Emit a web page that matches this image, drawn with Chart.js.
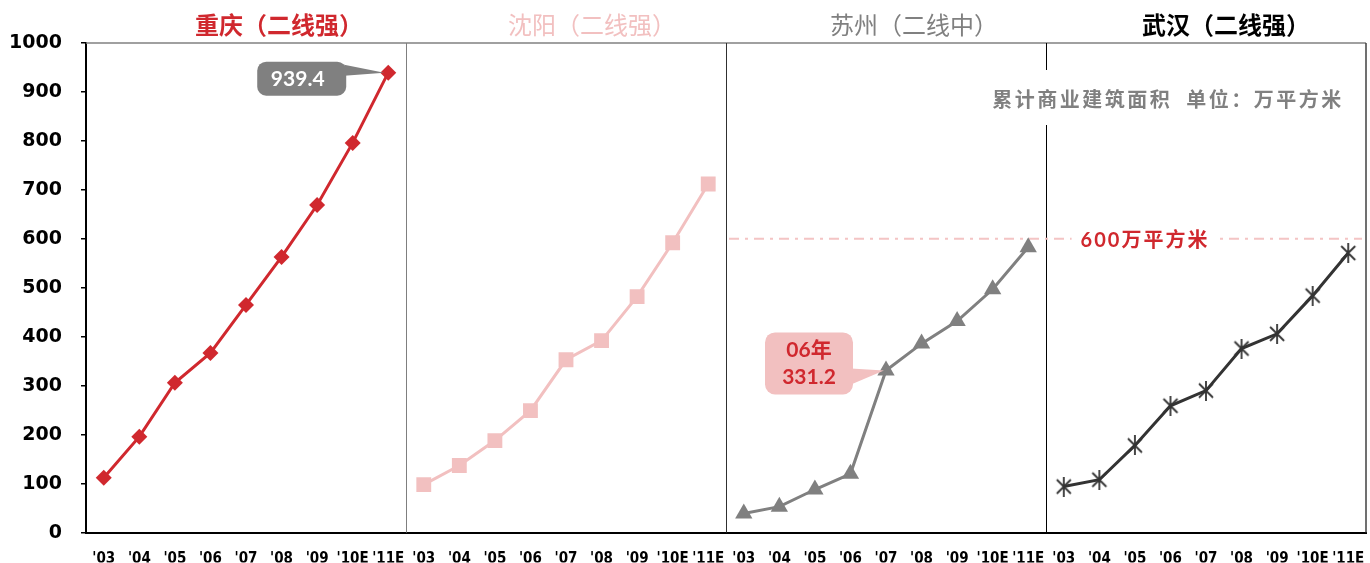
<!DOCTYPE html>
<html>
<head>
<meta charset="utf-8">
<script src="https://cdn.jsdelivr.net/npm/chart.js@4.4.0/dist/chart.umd.min.js"></script>
<style>
  html, body { margin: 0; padding: 0; background: #fff; }
  #grafico { width: 1370px; height: 563px; }
</style>
</head>
<body>
<div id="grafico"><canvas id="lienzo" width="1370" height="563"></canvas></div>
<script>
// Datos
const anios = ["'03", "'04", "'05", "'06", "'07", "'08", "'09", "'10E", "'11E"]
const ciudades = ['重庆（二线强）', '沈阳（二线强）', '苏州（二线中）', '武汉（二线强）']
const chongqing = [112, 196, 306, 367, 465, 563, 669, 796, 939.4]
const shenyang = [98, 137, 188, 249, 353, 392, 482, 592, 712]
const suzhou = [39, 53, 88, 120, 331.2, 386, 432, 497, 583]
const wuhan = [94, 108, 178, 259, 290, 376, 406, 484, 571]
const ticksY = [0, 100, 200, 300, 400, 500, 600, 700, 800, 900, 1000]
const lineaRef = 600
const textoRef = '600万平方米'
const nota = '累计商业建筑面积  单位：万平方米'

const ROJO = '#d0282e'
const ROSA = '#f2c0c0'
const GRIS = '#808080'
const OSCURO = '#333333'
const coloresTitulo = [ROJO, ROSA, GRIS, '#000000']
const pesosTitulo = ['bold', 'normal', 'normal', 'bold']
const desplTitulo = [33, 26, 28, 20]

// 4 paneles x 9 anios en un solo eje de categorias
const etiquetas = [].concat(anios, anios, anios, anios)

function serieEnPanel(valores, panel) {
    const datos = new Array(etiquetas.length).fill(null)
    valores.forEach((v, i) => { datos[panel * anios.length + i] = v })
    return datos
}

// Marcador tipo asterisco (X + linea vertical)
function crearEstrella() {
    const c = document.createElement('canvas')
    c.width = 20
    c.height = 20
    const g = c.getContext('2d')
    g.strokeStyle = OSCURO
    g.lineWidth = 1.8
    g.beginPath()
    g.moveTo(3, 3); g.lineTo(17, 17)
    g.moveTo(17, 3); g.lineTo(3, 17)
    g.moveTo(10, 0); g.lineTo(10, 20)
    g.stroke()
    return c
}

function cajaRedondeada(ctx, x, y, w, h, r) {
    ctx.beginPath()
    ctx.roundRect(x, y, w, h, r)
    ctx.fill()
}

const pluginMarco = {
    id: 'marco',
    beforeDatasetsDraw(chart) {
        const { ctx, chartArea: a, scales: { x, y } } = chart
        const n = anios.length
        ctx.save()
        // borde superior y derecho
        ctx.strokeStyle = GRIS
        ctx.lineWidth = 1.5
        ctx.beginPath()
        ctx.moveTo(a.left, a.top); ctx.lineTo(a.right, a.top)
        ctx.stroke()
        ctx.strokeStyle = '#404040'
        ctx.beginPath()
        ctx.moveTo(a.right, a.top); ctx.lineTo(a.right, a.bottom)
        ctx.stroke()
        // divisiones entre paneles
        const coloresDiv = ['#7f7f7f', '#303030', '#000000']
        for (let p = 1; p < 4; p++) {
            const xp = Math.round((x.getPixelForValue(p * n - 1) + x.getPixelForValue(p * n)) / 2) + 0.5
            ctx.strokeStyle = coloresDiv[p - 1]
            ctx.lineWidth = 1
            ctx.beginPath()
            ctx.moveTo(xp, a.top); ctx.lineTo(xp, a.bottom)
            ctx.stroke()
        }
        // linea de referencia 600
        const x0 = (x.getPixelForValue(2 * n - 1) + x.getPixelForValue(2 * n)) / 2 + 3
        const yr = y.getPixelForValue(lineaRef)
        ctx.strokeStyle = '#f4c4c4'
        ctx.lineWidth = 2
        ctx.setLineDash([10, 6, 3, 6])
        ctx.beginPath()
        ctx.moveTo(x0, yr); ctx.lineTo(a.right - 4, yr)
        ctx.stroke()
        ctx.setLineDash([])
        // texto de la linea con fondo blanco
        ctx.font = 'bold 20px "Lato", "Noto Sans CJK SC", sans-serif'
        ctx.letterSpacing = '2px'
        const xt = 1145
        const wt = ctx.measureText(textoRef).width
        ctx.fillStyle = '#ffffff'
        ctx.fillRect(xt - wt / 2 - 9, yr - 6, wt + 18, 12)
        ctx.fillStyle = ROJO
        ctx.textAlign = 'center'
        ctx.textBaseline = 'middle'
        ctx.fillText(textoRef, xt, yr + 2)
        ctx.restore()
    },
    afterDatasetsDraw(chart) {
        const { ctx, scales: { x } } = chart
        const n = anios.length
        ctx.save()
        // titulos de cada panel
        ctx.textAlign = 'center'
        ctx.textBaseline = 'middle'
        ciudades.forEach((t, p) => {
            const xc = (x.getPixelForValue(p * n + 4)) + desplTitulo[p]
            ctx.font = pesosTitulo[p] + ' 24px "Noto Sans CJK SC", sans-serif'
            ctx.fillStyle = coloresTitulo[p]
            ctx.fillText(t, xc, 25)
        })
        // nota de unidades con fondo blanco
        ctx.font = 'bold 20px "Noto Sans CJK SC", sans-serif'
        ctx.letterSpacing = '2.5px'
        const wn = ctx.measureText(nota).width
        ctx.fillStyle = '#ffffff'
        ctx.fillRect(1167 - wn / 2 - 4, 70, wn + 8, 55)
        ctx.fillStyle = GRIS
        ctx.fillText(nota, 1168, 99)
        ctx.letterSpacing = '0px'

        // globo 939.4
        const p1 = chart.getDatasetMeta(0).data[8]
        const b1 = { x: p1.x - 131, y: p1.y - 11, w: 89, h: 34 }
        ctx.fillStyle = GRIS
        cajaRedondeada(ctx, b1.x, b1.y, b1.w, b1.h, 9)
        ctx.beginPath()
        ctx.moveTo(b1.x + b1.w - 2, b1.y + 3)
        ctx.lineTo(p1.x - 4, p1.y)
        ctx.lineTo(b1.x + b1.w - 2, b1.y + 14)
        ctx.closePath()
        ctx.fill()
        ctx.fillStyle = '#ffffff'
        ctx.font = 'bold 21px "Lato", sans-serif'
        ctx.fillText(String(chongqing[8]), b1.x + b1.w / 2 - 4, b1.y + b1.h / 2 + 1)

        // globo 06年 331.2
        const p2 = chart.getDatasetMeta(2).data[2 * n + 4]
        const b2 = { x: p2.x - 121, y: p2.y - 38, w: 88, h: 62 }
        ctx.fillStyle = ROSA
        cajaRedondeada(ctx, b2.x, b2.y, b2.w, b2.h, 10)
        ctx.beginPath()
        ctx.moveTo(b2.x + b2.w - 2, b2.y + 36)
        ctx.lineTo(p2.x - 2, p2.y)
        ctx.lineTo(b2.x + b2.w - 2, b2.y + 52)
        ctx.closePath()
        ctx.fill()
        ctx.fillStyle = ROJO
        ctx.font = 'bold 21px "Lato", "Noto Sans CJK SC", sans-serif'
        ctx.fillText('06年', b2.x + b2.w / 2, b2.y + 18)
        ctx.fillText(String(suzhou[4]), b2.x + b2.w / 2, b2.y + 45)
        ctx.restore()
    }
}

const contexto = document.querySelector('#lienzo').getContext('2d')
const grafico = new Chart(contexto, {
    type: 'line',
    data: {
        labels: etiquetas,
        datasets: [
            {
                data: serieEnPanel(chongqing, 0),
                borderColor: ROJO, backgroundColor: ROJO, borderWidth: 3,
                pointStyle: 'rectRot', pointRadius: 8, pointBorderWidth: 0
            },
            {
                data: serieEnPanel(shenyang, 1),
                borderColor: ROSA, backgroundColor: ROSA, borderWidth: 3,
                pointStyle: 'rect', pointRadius: 10.5, pointBorderWidth: 0
            },
            {
                data: serieEnPanel(suzhou, 2),
                borderColor: GRIS, backgroundColor: GRIS, borderWidth: 3,
                pointStyle: 'triangle', pointRadius: 10, pointBorderWidth: 0
            },
            {
                data: serieEnPanel(wuhan, 3),
                borderColor: OSCURO, backgroundColor: OSCURO, borderWidth: 3,
                pointStyle: crearEstrella(), pointRadius: 10
            }
        ]
    },
    options: {
        responsive: false,
        animation: false,
        events: [],
        spanGaps: false,
        layout: { autoPadding: false, padding: { top: 43, right: 4, left: 0, bottom: 0 } },
        plugins: {
            legend: { display: false },
            title: { display: false },
            tooltip: { enabled: false }
        },
        scales: {
            x: {
                offset: true,
                afterFit: s => { s.height = 30; s.paddingLeft = 0; s.paddingRight = 0 },
                border: { color: '#000000', width: 2 },
                grid: { display: false },
                ticks: {
                    autoSkip: false,
                    maxRotation: 0,
                    padding: 10,
                    color: '#000000',
                    font: { family: '"DejaVu Sans Condensed", "DejaVu Sans", sans-serif', size: 15, weight: 'bold' }
                }
            },
            y: {
                min: 0,
                max: 1000,
                afterFit: s => { s.width = 86 },
                afterBuildTicks: s => { s.ticks = ticksY.map(v => ({ value: v })) },
                border: { color: '#000000', width: 2 },
                grid: { drawOnChartArea: false, tickLength: 5, color: '#000000', lineWidth: 1.5 },
                ticks: {
                    padding: 19,
                    color: '#000000',
                    callback: v => String(v),
                    font: { family: '"DejaVu Sans", sans-serif', size: 19, weight: 'bold' }
                }
            }
        }
    },
    plugins: [pluginMarco]
})
</script>
</body>
</html>
